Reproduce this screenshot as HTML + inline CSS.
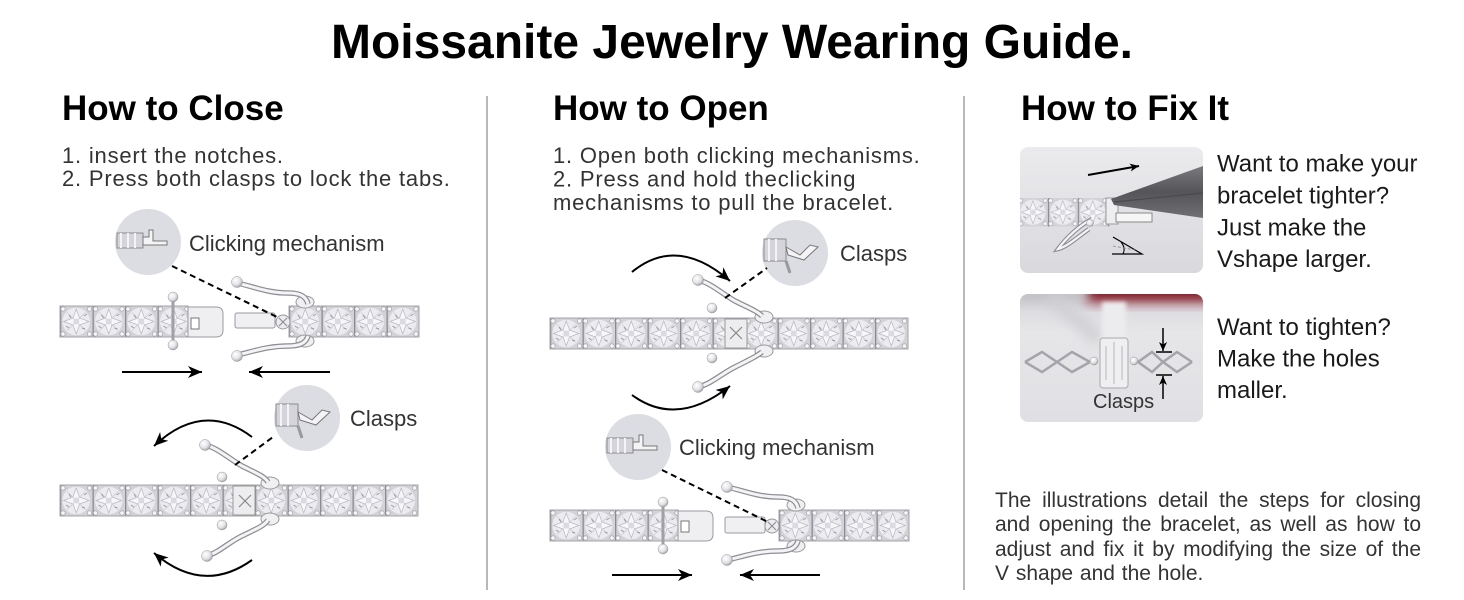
<!DOCTYPE html>
<html><head><meta charset="utf-8">
<style>
html,body{margin:0;padding:0;background:#fff;}
body{width:1464px;height:600px;overflow:hidden;position:relative;font-family:"Liberation Sans",Arial,sans-serif;}
svg{position:absolute;left:0;top:0;}
svg text{font-family:"Liberation Sans",Arial,sans-serif;}
.p{position:absolute;left:995px;top:489px;width:426px;font-size:21px;line-height:24.4px;color:#333;text-align:justify;text-align-last:left;word-spacing:1px;}
</style></head><body>
<svg width="1464" height="600" viewBox="0 0 1464 600">
<defs>
 <pattern id="st" width="32.5" height="31" patternUnits="userSpaceOnUse">
  <rect width="32.5" height="31" fill="#d2d2d7"/>
  <circle cx="16.25" cy="15.5" r="13.8" fill="#ececf0"/>
  <path d="M16.25 3 L19.5 12 L29 15.5 L19.5 19 L16.25 28 L13 19 L3.5 15.5 L13 12Z" fill="#f7f7f9" stroke="#b6b6be" stroke-width="0.7"/>
  <path d="M7 6.5 L25.5 24.5 M25.5 6.5 L7 24.5" stroke="#c4c4cc" stroke-width="0.6"/>
  <circle cx="16.25" cy="15.5" r="3" fill="#dadae2"/>
  <path d="M6 20 l3 2 M24 10 l3 -2 M9 9 l2 3 M22 22 l3 1" stroke="#9a9aa2" stroke-width="1"/>
  <rect width="1.3" height="31" fill="#8a8a92"/>
  <circle cx="3" cy="3" r="2.2" fill="#f6f6f8" stroke="#9a9aa0" stroke-width="0.6"/>
  <circle cx="29.5" cy="3" r="2.2" fill="#f6f6f8" stroke="#9a9aa0" stroke-width="0.6"/>
  <circle cx="3" cy="28" r="2.2" fill="#f6f6f8" stroke="#9a9aa0" stroke-width="0.6"/>
  <circle cx="29.5" cy="28" r="2.2" fill="#f6f6f8" stroke="#9a9aa0" stroke-width="0.6"/>
 </pattern>
 <radialGradient id="ball" cx="0.38" cy="0.35" r="0.7">
  <stop offset="0" stop-color="#ffffff"/><stop offset="0.6" stop-color="#e2e2e6"/><stop offset="1" stop-color="#9a9aa0"/>
 </radialGradient>
 <linearGradient id="g1" x1="0" y1="0" x2="0" y2="1"><stop offset="0" stop-color="#ebebee"/><stop offset="1" stop-color="#d9d9dd"/></linearGradient>
 <linearGradient id="g2" x1="0" y1="0" x2="0" y2="1"><stop offset="0" stop-color="#d6d6da"/><stop offset="0.3" stop-color="#e6e6e9"/><stop offset="1" stop-color="#e0e0e4"/></linearGradient>
 <linearGradient id="pl" x1="0" y1="0" x2="0" y2="1"><stop offset="0" stop-color="#7a7a7e"/><stop offset="0.5" stop-color="#555559"/><stop offset="1" stop-color="#707074"/></linearGradient>
 <filter id="bl" x="-50%" y="-50%" width="200%" height="200%"><feGaussianBlur stdDeviation="6"/></filter>
 <filter id="bl2" x="-50%" y="-50%" width="200%" height="200%"><feGaussianBlur stdDeviation="2"/></filter>
 <marker id="ah" markerWidth="16" markerHeight="12" refX="14" refY="6" orient="auto" markerUnits="userSpaceOnUse"><path d="M0,0 L14,6 L0,12 L4,6Z" fill="#000"/></marker>
 <marker id="ah2" markerWidth="10" markerHeight="8" refX="9" refY="4" orient="auto" markerUnits="userSpaceOnUse"><path d="M0,0 L9,4 L0,8 L2.5,4Z" fill="#000"/></marker>
 <clipPath id="c1"><rect x="1020" y="147" width="183" height="126" rx="8"/></clipPath>
 <clipPath id="c2"><rect x="1020" y="294" width="183" height="128" rx="8"/></clipPath>
</defs>

<!-- Title & headings -->
<text x="732" y="58" text-anchor="middle" font-size="48" font-weight="bold" fill="#000">Moissanite Jewelry Wearing Guide.</text>
<text x="62" y="120" font-size="35" font-weight="bold" fill="#000">How to Close</text>
<text x="553" y="120" font-size="35" font-weight="bold" fill="#000">How to Open</text>
<text x="1021" y="120" font-size="35" font-weight="bold" fill="#000">How to Fix It</text>

<g font-size="22" fill="#333" style="letter-spacing:0.8px">
 <text x="62" y="163">1. insert the notches.</text>
 <text x="62" y="186">2. Press both clasps to lock the tabs.</text>
 <text x="553" y="163">1. Open both clicking mechanisms.</text>
 <text x="553" y="186.5">2. Press and hold theclicking</text>
 <text x="553" y="210">mechanisms to pull the bracelet.</text>
</g>

<!-- dividers -->
<line x1="487" y1="96" x2="487" y2="590" stroke="#a0a0a0" stroke-width="1.5"/>
<line x1="964" y1="96" x2="964" y2="590" stroke="#a0a0a0" stroke-width="1.5"/>

<!-- ========== LEFT TOP (close) ========== -->
<g>
 <g transform="translate(60,306)"><rect width="128" height="31" fill="url(#st)"/><rect width="128" height="31" fill="none" stroke="#a4a4aa"/></g>
 <line x1="173" y1="300" x2="173" y2="343" stroke="#a0a0a6" stroke-width="3"/>
 <path d="M188,307 H216 Q223,307 223,314 V330 Q223,337 216,337 H188 Z" fill="#efeff2" stroke="#9a9aa0"/>
 <rect x="191" y="318" width="8" height="11" fill="#fff" stroke="#777"/>
 <circle cx="173" cy="297" r="5" fill="url(#ball)" stroke="#999" stroke-width="0.5"/>
 <circle cx="173" cy="345" r="5" fill="url(#ball)" stroke="#999" stroke-width="0.5"/>
 <rect x="235" y="313" width="40" height="15" rx="2" fill="#f0f0f3" stroke="#9a9aa0"/>
 <g transform="translate(289,306)"><rect width="130" height="31" fill="url(#st)"/><rect width="130" height="31" fill="none" stroke="#a4a4aa"/></g>
 <circle cx="283" cy="322" r="7" fill="#ececf0" stroke="#999"/>
 <path d="M279,318 L287,326 M287,318 L279,326" stroke="#888" stroke-width="1"/>
 <ellipse cx="305" cy="302" rx="9" ry="6" fill="#f0f0f3" stroke="#999"/>
 <ellipse cx="305" cy="341" rx="9" ry="6" fill="#f0f0f3" stroke="#999"/>
 <path d="M237,283 C255,287 268,293 288,293 C300,293 306,296 308,304" fill="none" stroke="#8e8e94" stroke-width="5.5"/>
 <path d="M237,283 C255,287 268,293 288,293 C300,293 306,296 308,304" fill="none" stroke="#f4f4f6" stroke-width="3"/>
 <path d="M237,355 C255,351 268,346 288,346 C300,346 306,343 308,336" fill="none" stroke="#8e8e94" stroke-width="5.5"/>
 <path d="M237,355 C255,351 268,346 288,346 C300,346 306,343 308,336" fill="none" stroke="#f4f4f6" stroke-width="3"/>
 <circle cx="237" cy="282" r="5.5" fill="url(#ball)" stroke="#999" stroke-width="0.5"/>
 <circle cx="237" cy="356" r="5.5" fill="url(#ball)" stroke="#999" stroke-width="0.5"/>
 <circle cx="148" cy="242" r="33" fill="#dcdce3"/>
 <rect x="117" y="233" width="26" height="15" fill="#d4d4da" stroke="#8a8a90"/>
 <path d="M121,233 v15 M128,233 v15 M135,233 v15" stroke="#f4f4f6" stroke-width="2"/>
 <path d="M143,237 h6 v-7 h4 v11 h14 v4 h-24z" fill="#f4f4f6" stroke="#777"/>
 <path d="M172,266 L277,317" stroke="#000" stroke-width="2" stroke-dasharray="6 4"/>
 <path d="M122,372 H202" stroke="#000" stroke-width="2" marker-end="url(#ah)"/>
 <path d="M330,372 H249" stroke="#000" stroke-width="2" marker-end="url(#ah)"/>
 <text x="189" y="251" font-size="22" fill="#333">Clicking mechanism</text>
</g>

<!-- ========== LEFT BOTTOM (closed) ========== -->
<g>
 <g transform="translate(60,485)"><rect width="358" height="31" fill="url(#st)"/><rect width="358" height="31" fill="none" stroke="#a4a4aa"/></g>
 <rect x="233" y="486" width="22" height="29" fill="#ededf0" stroke="#999"/>
 <path d="M239,495 L251,507 M251,495 L239,507" stroke="#888" stroke-width="1.2"/>
 <ellipse cx="270" cy="483" rx="9" ry="6" fill="#f0f0f3" stroke="#999"/>
 <ellipse cx="270" cy="519" rx="9" ry="6" fill="#f0f0f3" stroke="#999"/>
 <circle cx="222" cy="477" r="5" fill="url(#ball)" stroke="#999" stroke-width="0.5"/>
 <circle cx="222" cy="525" r="5" fill="url(#ball)" stroke="#999" stroke-width="0.5"/>
 <path d="M205,445 C218,448 228,458 242,466 C256,473 264,476 268,482" fill="none" stroke="#8e8e94" stroke-width="5.5"/>
 <path d="M205,445 C218,448 228,458 242,466 C256,473 264,476 268,482" fill="none" stroke="#f4f4f6" stroke-width="3"/>
 <path d="M207,556 C220,552 230,541 244,535 C256,529 264,526 268,520" fill="none" stroke="#8e8e94" stroke-width="5.5"/>
 <path d="M207,556 C220,552 230,541 244,535 C256,529 264,526 268,520" fill="none" stroke="#f4f4f6" stroke-width="3"/>
 <circle cx="205" cy="445" r="5.5" fill="url(#ball)" stroke="#999" stroke-width="0.5"/>
 <circle cx="207" cy="556" r="5.5" fill="url(#ball)" stroke="#999" stroke-width="0.5"/>
 <circle cx="307" cy="418" r="33" fill="#dcdce3"/>
 <rect x="276" y="404" width="22" height="22" fill="#d4d4da" stroke="#8a8a90"/>
 <path d="M281,404 v22 M288,404 v22" stroke="#f4f4f6" stroke-width="2"/>
 <path d="M298,412 L312,420 L322,410 L330,412 L316,425 L300,420 Z" fill="#f4f4f6" stroke="#777"/>
 <path d="M298,426 l4,12" stroke="#999" stroke-width="3"/>
 <path d="M235,465 L273,437" stroke="#000" stroke-width="2" stroke-dasharray="6 4"/>
 <path d="M252,437 Q203,400 154,446" fill="none" stroke="#000" stroke-width="2" marker-end="url(#ah)"/>
 <path d="M252,560 Q203,595 154,553" fill="none" stroke="#000" stroke-width="2" marker-end="url(#ah)"/>
 <text x="350" y="426" font-size="22" fill="#333">Clasps</text>
</g>

<!-- ========== MIDDLE TOP (open) ========== -->
<g>
 <g transform="translate(550,318)"><rect width="358" height="31" fill="url(#st)"/><rect width="358" height="31" fill="none" stroke="#a4a4aa"/></g>
 <rect x="725" y="319" width="22" height="29" fill="#ededf0" stroke="#999"/>
 <path d="M730,327 L742,339 M742,327 L730,339" stroke="#888" stroke-width="1.2"/>
 <ellipse cx="764" cy="317" rx="9" ry="6" fill="#f0f0f3" stroke="#999"/>
 <ellipse cx="764" cy="351" rx="9" ry="6" fill="#f0f0f3" stroke="#999"/>
 <circle cx="712" cy="308" r="5" fill="url(#ball)" stroke="#999" stroke-width="0.5"/>
 <circle cx="712" cy="358" r="5" fill="url(#ball)" stroke="#999" stroke-width="0.5"/>
 <path d="M698,280 C711,283 721,293 735,301 C749,308 757,311 762,316" fill="none" stroke="#8e8e94" stroke-width="5.5"/>
 <path d="M698,280 C711,283 721,293 735,301 C749,308 757,311 762,316" fill="none" stroke="#f4f4f6" stroke-width="3"/>
 <path d="M698,387 C711,384 721,374 735,367 C749,360 757,356 762,352" fill="none" stroke="#8e8e94" stroke-width="5.5"/>
 <path d="M698,387 C711,384 721,374 735,367 C749,360 757,356 762,352" fill="none" stroke="#f4f4f6" stroke-width="3"/>
 <circle cx="698" cy="280" r="5.5" fill="url(#ball)" stroke="#999" stroke-width="0.5"/>
 <circle cx="698" cy="387" r="5.5" fill="url(#ball)" stroke="#999" stroke-width="0.5"/>
 <circle cx="795" cy="253" r="33" fill="#dcdce3"/>
 <rect x="764" y="239" width="22" height="22" fill="#d4d4da" stroke="#8a8a90"/>
 <path d="M769,239 v22 M776,239 v22" stroke="#f4f4f6" stroke-width="2"/>
 <path d="M786,247 L800,255 L810,245 L818,247 L804,260 L788,255 Z" fill="#f4f4f6" stroke="#777"/>
 <path d="M786,261 l4,12" stroke="#999" stroke-width="3"/>
 <path d="M725,298 L767,268" stroke="#000" stroke-width="2" stroke-dasharray="6 4"/>
 <path d="M632,272 Q677,235 730,281" fill="none" stroke="#000" stroke-width="2" marker-end="url(#ah)"/>
 <path d="M632,395 Q677,428 730,386" fill="none" stroke="#000" stroke-width="2" marker-end="url(#ah)"/>
 <text x="840" y="261" font-size="22" fill="#333">Clasps</text>
</g>

<!-- ========== MIDDLE BOTTOM (separate) ========== -->
<g>
 <g transform="translate(550,510)"><rect width="128" height="31" fill="url(#st)"/><rect width="128" height="31" fill="none" stroke="#a4a4aa"/></g>
 <line x1="663" y1="505" x2="663" y2="546" stroke="#a0a0a6" stroke-width="3"/>
 <path d="M678,511 H706 Q713,511 713,518 V534 Q713,541 706,541 H678 Z" fill="#efeff2" stroke="#9a9aa0"/>
 <rect x="681" y="521" width="8" height="11" fill="#fff" stroke="#777"/>
 <circle cx="663" cy="502" r="5" fill="url(#ball)" stroke="#999" stroke-width="0.5"/>
 <circle cx="663" cy="549" r="5" fill="url(#ball)" stroke="#999" stroke-width="0.5"/>
 <rect x="725" y="517" width="40" height="16" rx="2" fill="#f0f0f3" stroke="#9a9aa0"/>
 <g transform="translate(779,510)"><rect width="130" height="31" fill="url(#st)"/><rect width="130" height="31" fill="none" stroke="#a4a4aa"/></g>
 <circle cx="772" cy="526" r="7" fill="#ececf0" stroke="#999"/>
 <path d="M768,522 L776,530 M776,522 L768,530" stroke="#888" stroke-width="1"/>
 <ellipse cx="796" cy="505" rx="9" ry="6" fill="#f0f0f3" stroke="#999"/>
 <ellipse cx="796" cy="546" rx="9" ry="6" fill="#f0f0f3" stroke="#999"/>
 <path d="M727,487 C745,491 758,497 778,497 C790,497 796,500 798,508" fill="none" stroke="#8e8e94" stroke-width="5.5"/>
 <path d="M727,487 C745,491 758,497 778,497 C790,497 796,500 798,508" fill="none" stroke="#f4f4f6" stroke-width="3"/>
 <path d="M727,560 C745,556 758,551 778,551 C790,551 796,548 798,541" fill="none" stroke="#8e8e94" stroke-width="5.5"/>
 <path d="M727,560 C745,556 758,551 778,551 C790,551 796,548 798,541" fill="none" stroke="#f4f4f6" stroke-width="3"/>
 <circle cx="727" cy="487" r="5.5" fill="url(#ball)" stroke="#999" stroke-width="0.5"/>
 <circle cx="727" cy="560" r="5.5" fill="url(#ball)" stroke="#999" stroke-width="0.5"/>
 <circle cx="638" cy="447" r="33" fill="#dcdce3"/>
 <rect x="607" y="438" width="26" height="15" fill="#d4d4da" stroke="#8a8a90"/>
 <path d="M611,438 v15 M618,438 v15 M625,438 v15" stroke="#f4f4f6" stroke-width="2"/>
 <path d="M633,442 h6 v-7 h4 v11 h14 v4 h-24z" fill="#f4f4f6" stroke="#777"/>
 <path d="M662,470 L768,522" stroke="#000" stroke-width="2" stroke-dasharray="6 4"/>
 <path d="M612,575 H692" stroke="#000" stroke-width="2" marker-end="url(#ah)"/>
 <path d="M820,575 H740" stroke="#000" stroke-width="2" marker-end="url(#ah)"/>
 <text x="679" y="455" font-size="22" fill="#333">Clicking mechanism</text>
</g>

<!-- ========== RIGHT PHOTO 1 ========== -->
<g clip-path="url(#c1)">
 <rect x="1020" y="147" width="183" height="126" fill="url(#g1)"/>
 <g transform="translate(1018,198) scale(0.92)"><rect width="100" height="31" fill="url(#st)"/></g>
 <rect x="1106" y="198" width="12" height="26" fill="#eeeef0" stroke="#999"/>
 <rect x="1116" y="213" width="36" height="9" fill="#f6f6f7" stroke="#888"/>
 <path d="M1092,219 C1080,225 1066,238 1058,249 C1067,247 1079,236 1089,229" fill="none" stroke="#8e8e94" stroke-width="4.5"/>
 <path d="M1092,219 C1080,225 1066,238 1058,249 C1067,247 1079,236 1089,229" fill="none" stroke="#f4f4f6" stroke-width="2.2"/>
 <circle cx="1090" cy="223" r="3.5" fill="url(#ball)" stroke="#999" stroke-width="0.5"/>
 <polygon points="1111,199 1203,166 1203,218 1114,205" fill="url(#pl)"/>
 <path d="M1114,202 L1203,193" stroke="#4a4a4e" stroke-width="1.2"/>
 <path d="M1088,175 L1139,166" stroke="#000" stroke-width="2" marker-end="url(#ah2)"/>
 <path d="M1113,237 L1142,254 L1112,254" fill="none" stroke="#000" stroke-width="1.2"/>
 <path d="M1121,242 Q1126,248 1123,254" fill="none" stroke="#000" stroke-width="1"/>
 <path d="M1113,246 L1135,250" stroke="#888" stroke-width="0.8" stroke-dasharray="3 2"/>
</g>

<!-- ========== RIGHT PHOTO 2 ========== -->
<g clip-path="url(#c2)">
 <rect x="1020" y="294" width="183" height="128" fill="url(#g2)"/>
 <rect x="1085" y="282" width="130" height="20" fill="#7e1222" filter="url(#bl)"/>
 <rect x="1010" y="284" width="75" height="18" fill="#c0c0c4" filter="url(#bl)"/>
 <path d="M1050,296 L1100,340" stroke="#d0d0d4" stroke-width="14" filter="url(#bl)"/>
 <rect x="1102" y="302" width="24" height="40" fill="#ececee" filter="url(#bl2)"/>
 <rect x="1100" y="338" width="28" height="50" rx="3" fill="#efeff1" stroke="#aaa"/>
 <path d="M1106,346 v34 M1114,342 v42 M1122,346 v34" stroke="#c0c0c6" stroke-width="1.2"/>
 <path d="M1025,362 L1042,352 L1057,362 L1072,352 L1090,362 M1025,362 L1042,372 L1057,362 L1072,372 L1090,362" fill="none" stroke="#a4a4aa" stroke-width="2.5"/>
 <path d="M1138,362 L1152,352 L1163,362 L1177,352 L1192,362 M1138,362 L1152,372 L1163,362 L1177,372 L1192,362" fill="none" stroke="#a4a4aa" stroke-width="2.5"/>
 <circle cx="1094" cy="361" r="4" fill="url(#ball)" stroke="#999" stroke-width="0.5"/>
 <circle cx="1134" cy="361" r="4" fill="url(#ball)" stroke="#999" stroke-width="0.5"/>
 <path d="M1163,328 V351" stroke="#000" stroke-width="1.5" marker-end="url(#ah2)"/>
 <path d="M1156,352 H1172 M1156,375 H1172" stroke="#000" stroke-width="1.5"/>
 <path d="M1163,399 V376" stroke="#000" stroke-width="1.5" marker-end="url(#ah2)"/>
 <text x="1093" y="408" font-size="20" fill="#333">Clasps</text>
</g>

<!-- right texts -->
<g font-size="24" fill="#1a1a1a">
 <text x="1217" y="171.5">Want to make your</text>
 <text x="1217" y="203.5">bracelet tighter?</text>
 <text x="1217" y="235.5">Just make the</text>
 <text x="1217" y="267">Vshape larger.</text>
 <text x="1217" y="335">Want to tighten?</text>
 <text x="1217" y="366.5">Make the holes</text>
 <text x="1217" y="398">maller.</text>
</g>
</svg>
<div class="p">The illustrations detail the steps for closing and opening the bracelet, as well as how to adjust and fix it by modifying the size of the V shape and the hole.</div>
</body></html>
